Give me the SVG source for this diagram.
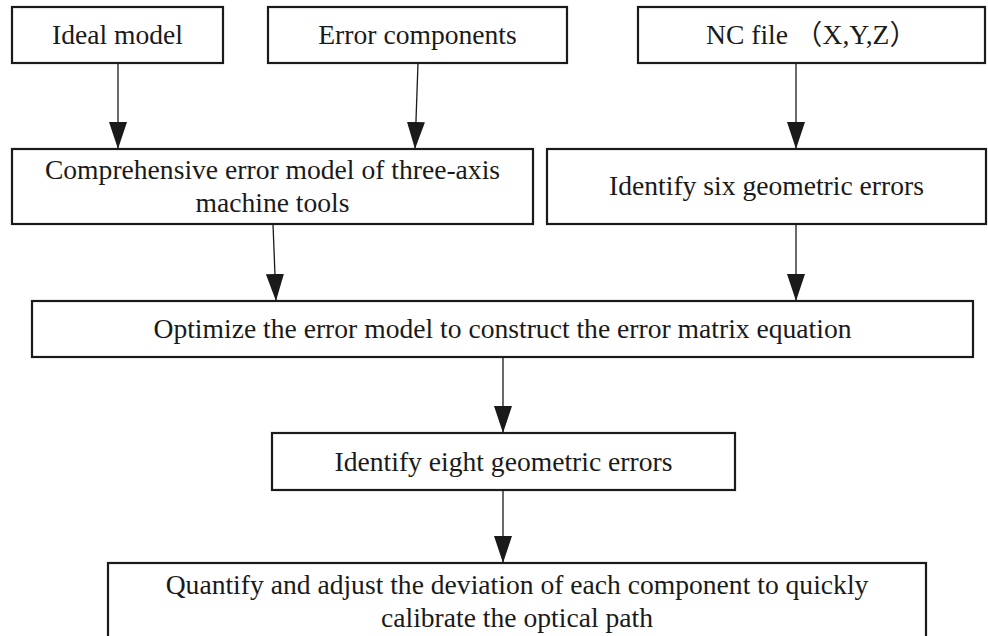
<svg xmlns="http://www.w3.org/2000/svg" width="988" height="636" viewBox="0 0 988 636">
<style>
.box{fill:#fff;stroke:#1a1a1a;stroke-width:2.2}
.t{font-family:"Liberation Serif","Noto Sans CJK SC",serif;font-size:27.6px;fill:#1a1a1a;text-anchor:middle}
.c{stroke:#1a1a1a;stroke-width:1.3;fill:none;marker-end:url(#ah)}
</style>
<defs>
<marker id="ah" markerUnits="userSpaceOnUse" markerWidth="28" markerHeight="18" refX="27" refY="9" orient="auto" viewBox="0 0 28 18">
<path d="M0,0 L27,9 L0,18 z" fill="#1a1a1a"/>
</marker>
</defs>
<rect width="988" height="636" fill="#fff"/>
<g id="connectors">
<line class="c" x1="118" y1="63" x2="118" y2="149"/>
<line class="c" x1="418" y1="63" x2="415" y2="149"/>
<line class="c" x1="796" y1="63" x2="796" y2="149"/>
<line class="c" x1="273" y1="224" x2="276" y2="301"/>
<line class="c" x1="796" y1="224" x2="796" y2="301"/>
<line class="c" x1="503" y1="357" x2="503" y2="433"/>
<line class="c" x1="503" y1="490" x2="503" y2="563"/>
</g>
<g id="ideal">
<rect class="box" x="12" y="7" width="211" height="56"/>
<text class="t" x="117.5" y="44">Ideal model</text>
</g>
<g id="errcomp">
<rect class="box" x="268" y="7" width="299" height="56"/>
<text class="t" x="417.5" y="44">Error components</text>
</g>
<g id="ncfile">
<rect class="box" x="638" y="7" width="347" height="56"/>
<text class="t" x="811.5" y="44">NC file （X,Y,Z）</text>
</g>
<g id="comprehensive">
<rect class="box" x="12" y="149" width="521" height="75"/>
<text class="t" x="272.5" y="179">Comprehensive error model of three-axis</text>
<text class="t" x="272.5" y="212">machine tools</text>
</g>
<g id="six">
<rect class="box" x="547" y="149" width="439" height="75"/>
<text class="t" x="766.5" y="195">Identify six geometric errors</text>
</g>
<g id="optimize">
<rect class="box" x="32" y="301" width="941" height="56"/>
<text class="t" x="502.5" y="338">Optimize the error model to construct the error matrix equation</text>
</g>
<g id="eight">
<rect class="box" x="272" y="433" width="463" height="57"/>
<text class="t" x="503.5" y="471">Identify eight geometric errors</text>
</g>
<g id="quantify">
<rect class="box" x="108" y="563" width="818" height="80"/>
<text class="t" x="517" y="594">Quantify and adjust the deviation of each component to quickly</text>
<text class="t" x="517" y="627">calibrate the optical path</text>
</g>
</svg>
